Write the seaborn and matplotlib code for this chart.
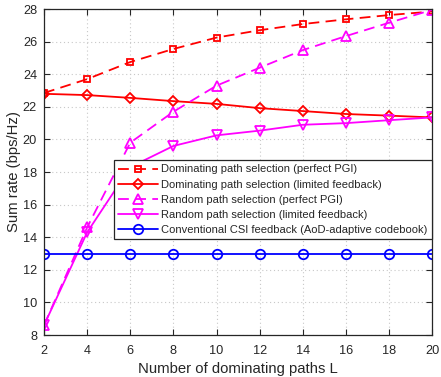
import matplotlib
matplotlib.use("Agg")
import matplotlib.pyplot as plt
import seaborn as sns
import numpy as np

sns.set_theme(style="white")
plt.rcParams['font.family'] = ['Liberation Sans', 'DejaVu Sans']

L = [2, 4, 6, 8, 10, 12, 14, 16, 18, 20]
dom_perfect = [22.85, 23.7, 24.75, 25.55, 26.25, 26.7, 27.08, 27.37, 27.63, 27.85]
dom_limited = [22.8, 22.72, 22.55, 22.35, 22.18, 21.92, 21.74, 21.56, 21.46, 21.35]
rand_perfect = [8.6, 14.6, 19.8, 21.7, 23.3, 24.4, 25.48, 26.34, 27.16, 27.95]
rand_limited = [8.6, 14.3, 18.3, 19.6, 20.25, 20.54, 20.9, 21.0, 21.18, 21.35]
conventional = [12.95] * 10

labels = ["Dominating path selection (perfect PGI)",
          "Dominating path selection (limited feedback)",
          "Random path selection (perfect PGI)",
          "Random path selection (limited feedback)",
          "Conventional CSI feedback (AoD-adaptive codebook)"]

fig = plt.figure(figsize=(4.41, 3.77), dpi=100)
ax = fig.add_axes([0.0998, 0.1114, 0.8802, 0.8646])

series = [
    (dom_perfect, "red", (0, (6, 3.5)), "s", 4.6),
    (dom_limited, "red", "-", "D", 5.2),
    (rand_perfect, "magenta", (0, (6, 3.5)), "^", 7.5),
    (rand_limited, "magenta", "-", "v", 7.5),
    (conventional, "blue", "-", "o", 6.8),
]
for (vals, col, ls, mk, ms), lab in zip(series, labels):
    sns.lineplot(x=L, y=vals, ax=ax, color=col, linestyle=ls, marker=mk,
                 markersize=ms, markerfacecolor="none", markeredgecolor=col,
                 markeredgewidth=1.3, linewidth=1.3, label=lab)

ax.set_xlim(2, 20)
ax.set_ylim(8, 28)
ax.set_xticks(range(2, 21, 2))
ax.set_yticks(range(8, 29, 2))
ax.grid(True, color="#c8c8c8", linestyle=(0, (1, 2.5)), linewidth=0.8)
for s in ax.spines.values():
    s.set_color("#262626")
    s.set_linewidth(0.9)
ax.tick_params(direction="in", length=4, width=0.8, colors="#262626",
               labelsize=9.2, top=True, right=True, bottom=True, left=True, pad=5)
ax.tick_params(axis="x", pad=7)
ax.set_xlabel("Number of dominating paths L", fontsize=10.7, color="#262626", labelpad=4)
ax.set_ylabel("Sum rate (bps/Hz)", fontsize=10.7, color="#262626", labelpad=1)

leg = ax.legend(loc="upper right", bbox_to_anchor=(1.0, 0.537), fontsize=8.0,
                handlelength=3.6, handletextpad=0.3, borderpad=0.4, labelspacing=0.46,
                frameon=True, fancybox=False, framealpha=1, borderaxespad=0.0)
leg.get_frame().set_edgecolor("#262626")
leg.get_frame().set_linewidth(0.9)

fig.savefig("out.png", dpi=100)
